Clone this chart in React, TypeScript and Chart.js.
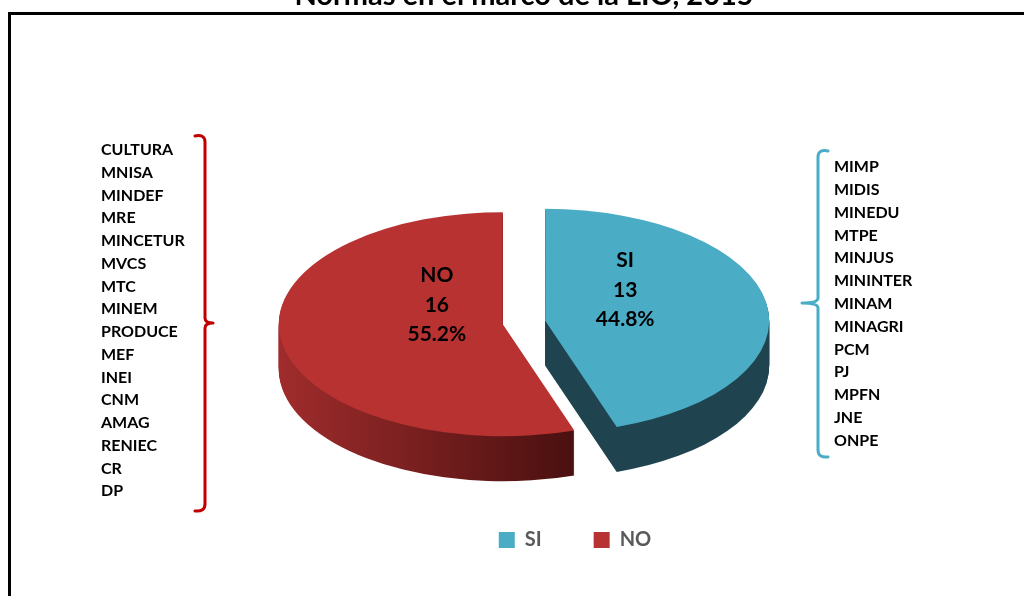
import { useEffect, useRef } from 'react';
import { Chart, registerables } from 'chart.js';

Chart.register(...registerables);

// ---------- data ----------
const categories = ['SI', 'NO'];
const counts = [13, 16];
const siEntities = ['MIMP', 'MIDIS', 'MINEDU', 'MTPE', 'MINJUS', 'MININTER', 'MINAM', 'MINAGRI', 'PCM', 'PJ', 'MPFN', 'JNE', 'ONPE'];
const noEntities = ['CULTURA', 'MNISA', 'MINDEF', 'MRE', 'MINCETUR', 'MVCS', 'MTC', 'MINEM', 'PRODUCE', 'MEF', 'INEI', 'CNM', 'AMAG', 'RENIEC', 'CR', 'DP'];
const titleText = 'Normas en el marco de la LIO, 2015';

// ---------- styles ----------
const FONT = 'Lato, "Open Sans", "Noto Sans", sans-serif';
const TOP_COLORS = ['#4bacc6', '#b83232'];
const SIDE_COLORS = [['#1f4450', '#1f4450'], ['#a02c2c', '#4a1010']];
const BRACKET_COLORS = ['#4bacc6', '#c00000'];
const PIE_X = 524;
const PIE_Y = 322.5;
const SQUASH = 0.5;
const DEPTH = 45;
const EXPLODE = 21.5;
const LABEL_DX = 7;

function sliceGeom(el: any) {
  const h = (el.startAngle + el.endAngle) / 2;
  return { h, sx: Math.cos(h) * EXPLODE, sy: Math.sin(h) * EXPLODE, R: el.outerRadius };
}

const pie3d = {
  id: 'pie3d',
  beforeDraw(chart: any) {
    const ctx = chart.ctx as CanvasRenderingContext2D;
    ctx.save();
    // frame
    ctx.strokeStyle = '#000';
    ctx.lineWidth = 3;
    ctx.strokeRect(9.5, 13.5, 2000, 2000);
    // title (clipped at the top)
    ctx.fillStyle = '#000';
    ctx.font = `bold 29px ${FONT}`;
    ctx.textAlign = 'center';
    ctx.textBaseline = 'alphabetic';
    ctx.fillText(titleText, 524, 5);
    // lists
    ctx.font = `bold 16px ${FONT}`;
    ctx.textAlign = 'left';
    ctx.textBaseline = 'middle';
    noEntities.forEach((t, i) => ctx.fillText(t, 101, 150 + i * 22.75));
    siEntities.forEach((t, i) => ctx.fillText(t, 834, 167 + i * 22.8));
    // brackets
    ctx.lineWidth = 3;
    ctx.lineCap = 'round';
    ctx.lineJoin = 'round';
    ctx.strokeStyle = BRACKET_COLORS[1];
    ctx.beginPath();
    ctx.moveTo(195, 136);
    ctx.quadraticCurveTo(205, 134, 205, 142);
    ctx.lineTo(205, 318);
    ctx.quadraticCurveTo(205, 323, 213, 323);
    ctx.quadraticCurveTo(205, 323, 205, 328);
    ctx.lineTo(205, 504);
    ctx.quadraticCurveTo(205, 512, 195, 511);
    ctx.stroke();
    ctx.strokeStyle = BRACKET_COLORS[0];
    ctx.beginPath();
    ctx.moveTo(828, 151);
    ctx.quadraticCurveTo(818, 149, 818, 157);
    ctx.lineTo(818, 298);
    ctx.quadraticCurveTo(818, 303, 802, 303);
    ctx.quadraticCurveTo(818, 303, 818, 308);
    ctx.lineTo(818, 450);
    ctx.quadraticCurveTo(818, 458, 828, 457);
    ctx.stroke();
    ctx.restore();
  },
  beforeDatasetsDraw(chart: any) {
    const ctx = chart.ctx as CanvasRenderingContext2D;
    const els = chart.getDatasetMeta(0).data as any[];
    const cx = els[0].x;
    const cy = els[0].y;
    // side walls: stacked layers below each slice
    els.forEach((el: any, i: number) => {
      const { sx, sy, R } = sliceGeom(el);
      const px = cx + sx;
      const py = cy + sy;
      const g = ctx.createLinearGradient(px - R, 0, px + R * Math.max(Math.cos(el.endAngle), Math.cos(el.startAngle), 0.2), 0);
      g.addColorStop(0, SIDE_COLORS[i][0]);
      g.addColorStop(1, SIDE_COLORS[i][1]);
      for (let d = DEPTH; d >= 1; d--) {
        ctx.save();
        ctx.translate(PIE_X, PIE_Y + d);
        ctx.scale(1, SQUASH);
        ctx.translate(-cx, -cy);
        ctx.beginPath();
        ctx.moveTo(px, py);
        ctx.arc(px, py, R, el.startAngle, el.endAngle);
        ctx.closePath();
        ctx.fillStyle = g;
        ctx.fill();
        ctx.restore();
      }
    });
    // top faces: Chart.js arc elements drawn on the squashed, exploded plane
    els.forEach((el: any) => {
      const { sx, sy } = sliceGeom(el);
      ctx.save();
      ctx.translate(PIE_X, PIE_Y);
      ctx.scale(1, SQUASH);
      ctx.translate(-cx + sx, -cy + sy);
      el.draw(ctx);
      ctx.restore();
    });
    return false;
  },
  afterDraw(chart: any) {
    const ctx = chart.ctx as CanvasRenderingContext2D;
    const els = chart.getDatasetMeta(0).data as any[];
    const total = counts.reduce((a, b) => a + b, 0);
    ctx.save();
    ctx.fillStyle = '#000';
    ctx.font = `bold 21px ${FONT}`;
    ctx.textAlign = 'center';
    ctx.textBaseline = 'middle';
    els.forEach((el: any, i: number) => {
      const { h, R } = sliceGeom(el);
      const ux = Math.cos(h) * (EXPLODE + R * 0.33);
      const uy = Math.sin(h) * (EXPLODE + R * 0.33);
      const x = PIE_X + ux + LABEL_DX;
      const y = PIE_Y + uy * SQUASH - 25;
      const lines = [categories[i], String(counts[i]), ((counts[i] / total) * 100).toFixed(1) + '%'];
      lines.forEach((t, j) => ctx.fillText(t, x, y + (j - 1) * 29.5));
    });
    ctx.restore();
  },
};

export default function App() {
  const ref = useRef<HTMLCanvasElement | null>(null);
  useEffect(() => {
    if (!ref.current) return;
    const chart = new Chart(ref.current, {
      type: 'pie',
      data: {
        labels: categories,
        datasets: [
          {
            data: counts,
            backgroundColor: TOP_COLORS,
            borderWidth: 0,
            radius: 224,
            clip: false,
          } as any,
        ],
      },
      options: {
        animation: false,
        responsive: false,
        events: [],
        layout: { padding: { left: 126, right: 0, top: 20, bottom: 36 } },
        plugins: {
          title: { display: false },
          tooltip: { enabled: false },
          legend: {
            position: 'bottom',
            labels: {
              boxWidth: 16,
              boxHeight: 16,
              padding: 52,
              color: '#595959',
              font: { family: FONT, size: 20, weight: 'bold' },
            },
          },
        },
      } as any,
      plugins: [pie3d],
    });
    return () => chart.destroy();
  }, []);
  return (
    <div style={{ position: 'fixed', left: 0, top: 0, width: 1024, height: 596, background: '#fff', overflow: 'hidden' }}>
      <canvas ref={ref} width={1024} height={596} style={{ display: 'block', width: 1024, height: 596 }} />
    </div>
  );
}
